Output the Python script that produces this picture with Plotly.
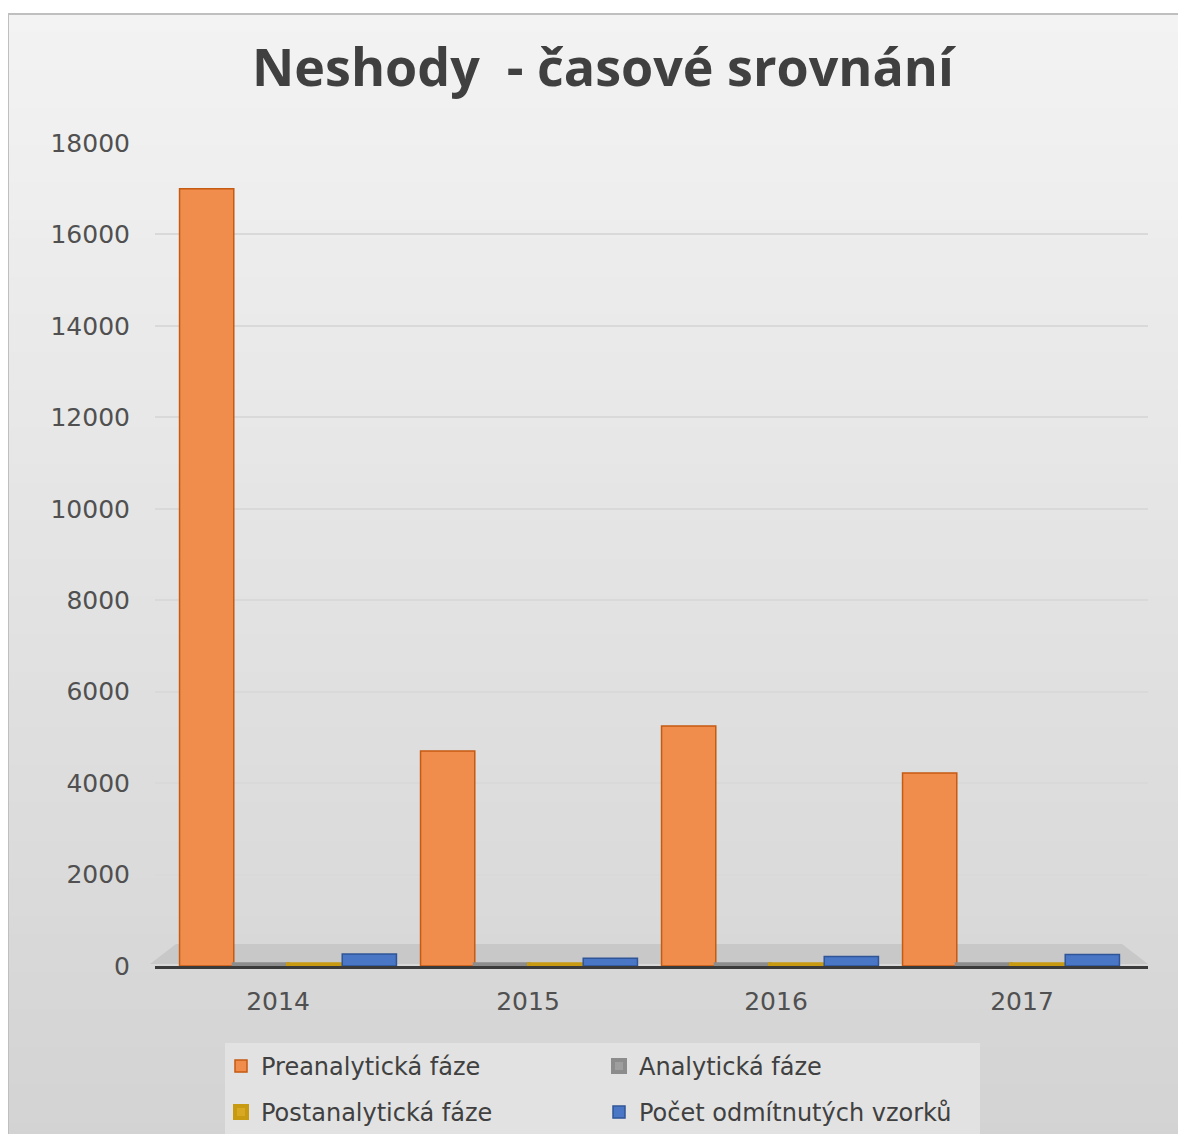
import plotly.graph_objects as go

years = ["2014", "2015", "2016", "2017"]
series_names = ["Preanalytická fáze", "Analytická fáze", "Postanalytická fáze", "Počet odmítnutých vzorků"]
preanalyticka = [17000, 4700, 5250, 4220]
analyticka = [40, 40, 40, 40]
postanalyticka = [40, 40, 40, 40]
odmitnute = [260, 170, 210, 250]
y_ticks = [0, 2000, 4000, 6000, 8000, 10000, 12000, 14000, 16000, 18000]

fills = ["#F08C4C", "#9E9E9E", "#D9A823", "#4A76C6"]
edges = ["#C55A11", "#8C8C8C", "#C89A12", "#2F5597"]
edge_widths = [1.5, 4, 4, 1.5]
values = [preanalyticka, analyticka, postanalyticka, odmitnute]
legend_ids = ["legend", "legend", "legend2", "legend2"]

# page body has an 8px margin; work in target pixels and shift
OFF = 8
W, H = 1186 - 2 * OFF, 1142 - 2 * OFF
plot_left, plot_right, plot_top, plot_bottom = 155, 1148, 143, 966
ml = plot_left - OFF
mr = W - (plot_right - OFF)
mt = plot_top - OFF
mb = H - (plot_bottom - OFF)
pw = W - ml - mr
ph = H - mt - mb


def px_x(p):
    return (p - plot_left) / pw


def px_y(p):
    return (plot_bottom - p) / ph


# x scale: bar groups (perspective) centred at 288 .. 1011 px
grp_first, grp_last = 288, 1011
step = (grp_last - grp_first) / (len(years) - 1)
x_lo = -(grp_first - plot_left) / step
x_hi = x_lo + pw / step
idx = list(range(len(years)))
label_px = [278, 528, 776, 1022]
label_vals = [x_lo + (p - plot_left) / step for p in label_px]

fig = go.Figure()
for name, vals, fc, ec, ew, lg in zip(series_names, values, fills, edges, edge_widths, legend_ids):
    fig.add_trace(go.Bar(
        x=idx, y=vals, name=name, legend=lg,
        customdata=years,
        hovertemplate="%{customdata}: %{y}<extra>" + name + "</extra>",
        marker=dict(color=fc, line=dict(color=ec, width=ew)),
    ))

shapes = []
n = 60
for i in range(n):
    t = i / (n - 1)
    c = int(round(243 - (243 - 211) * t))
    y_top_px = 14 + (1142 - 14) * i / n
    y_bot_px = 14 + (1142 - 14) * (i + 1) / n
    shapes.append(dict(
        type="rect", xref="paper", yref="paper", layer="below",
        x0=px_x(8), x1=px_x(1178),
        y0=px_y(y_bot_px), y1=px_y(y_top_px) + 0.001,
        fillcolor=f"rgb({c},{c},{c})", line=dict(width=0),
    ))
shapes.append(dict(
    type="rect", xref="paper", yref="paper", layer="below",
    x0=px_x(8), x1=px_x(1180),
    y0=px_y(1145), y1=px_y(14),
    line=dict(color="#BFBFBF", width=2), fillcolor="rgba(0,0,0,0)",
))
# floor slab
shapes.append(dict(
    type="path", xref="paper", yref="paper", layer="below",
    path=(f"M {px_x(150)},{px_y(964)} L {px_x(1148)},{px_y(964)} "
          f"L {px_x(1122)},{px_y(944)} L {px_x(176)},{px_y(944)} Z"),
    fillcolor="#C8C8C8", line=dict(width=0),
))
# legend box
shapes.append(dict(
    type="rect", xref="paper", yref="paper", layer="below",
    x0=px_x(225), x1=px_x(980),
    y0=px_y(1136), y1=px_y(1043),
    fillcolor="#E2E2E2", line=dict(width=0),
))

legend_common = dict(
    orientation="h",
    xanchor="left", yanchor="top",
    entrywidth=333, entrywidthmode="pixels",
    font=dict(family="DejaVu Sans", size=24, color="#404040"),
    bgcolor="rgba(0,0,0,0)",
    itemwidth=30,
)

fig.update_layout(
    width=W, height=H,
    margin=dict(l=ml, r=mr, t=mt, b=mb, autoexpand=False),
    paper_bgcolor="white",
    plot_bgcolor="rgba(0,0,0,0)",
    barmode="group",
    bargap=0.1,
    bargroupgap=0,
    shapes=shapes,
    showlegend=True,
    title=dict(
        text="<b>Neshody  - časové srovnání</b>",
        x=(603 - OFF) / W, xref="container", xanchor="center",
        y=1 - (68 - OFF) / H, yanchor="middle",
        font=dict(family="Open Sans", size=52, color="#404040"),
    ),
    xaxis=dict(
        range=[x_lo, x_hi], tickvals=label_vals, ticktext=years,
        showgrid=False, zeroline=False,
        showline=True, linecolor="#3A3A3A", linewidth=3,
        ticks="", tickfont=dict(family="DejaVu Sans", size=25, color="#505050"),
        ticklabelstandoff=11,
    ),
    yaxis=dict(
        range=[0, 18000], tickvals=y_ticks, tickformat="d",
        showgrid=True, gridcolor="#D9D9D9", gridwidth=1.5,
        zeroline=False, showline=False,
        tickfont=dict(family="DejaVu Sans", size=25, color="#505050"),
        ticklabelstandoff=24,
    ),
    legend=dict(x=px_x(221), y=px_y(1044), **legend_common),
    legend2=dict(x=px_x(221), y=px_y(1090), **legend_common),
)

fig.write_html("out.html")
